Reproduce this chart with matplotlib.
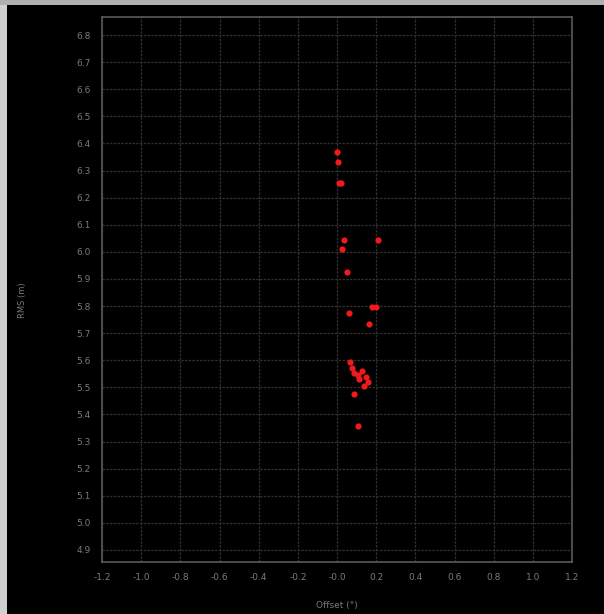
import matplotlib
matplotlib.use("Agg")
import matplotlib.pyplot as plt
from matplotlib.patches import Rectangle

# offset (deg) vs RMS (m)
offset = [0.000, 0.005, 0.010, 0.020, 0.036, 0.026, 0.209, 0.050, 0.061,
          0.180, 0.200, 0.163, 0.066, 0.077, 0.087, 0.107, 0.128, 0.148,
          0.158, 0.138, 0.112, 0.087, 0.107]
rms = [6.369, 6.332, 6.255, 6.255, 6.042, 6.012, 6.045, 5.927, 5.773,
       5.795, 5.795, 5.732, 5.592, 5.570, 5.552, 5.544, 5.559, 5.537,
       5.519, 5.504, 5.530, 5.475, 5.357]

xticks = [-1.2, -1.0, -0.8, -0.6, -0.4, -0.2, 0.0, 0.2, 0.4, 0.6, 0.8, 1.0, 1.2]
xlabels = ['-1.2', '-1.0', '-0.8', '-0.6', '-0.4', '-0.2', '-0.0', '0.2', '0.4',
           '0.6', '0.8', '1.0', '1.2']
yticks = [round(4.9 + 0.1 * i, 1) for i in range(20)]

fig = plt.figure(figsize=(6.04, 6.14), dpi=100, facecolor='black')
ax = fig.add_axes([0.169, 0.085, 0.778, 0.887], facecolor='black')

ax.scatter(offset, rms, s=20, color='#f01a1a', zorder=3, linewidths=0)

ax.set_xlim(-1.2, 1.2)
ax.set_ylim(4.856, 6.866)
ax.set_xticks(xticks)
ax.set_xticklabels(xlabels)
ax.set_yticks(yticks)
ax.set_yticklabels(['%.1f' % v for v in yticks])
ax.tick_params(colors='#7a7a7a', labelsize=6.5, length=0, pad=8)
ax.grid(True, color='#303030', linestyle=(0, (2, 1)), linewidth=0.9)
for s in ax.spines.values():
    s.set_color('#5a5a5a')
    s.set_linewidth(1.2)

ax.set_xlabel('Offset (°)', color='#7a7a7a', fontsize=6.5, labelpad=14)
fig.text(22 / 604, 1 - 300 / 614, 'RMS (m)', color='#7a7a7a', fontsize=6,
         rotation=90, ha='center', va='center')

# light window border at left and top
fig.patches.append(Rectangle((0, 0), 7 / 604, 1, transform=fig.transFigure,
                             facecolor='#d0d0d0', edgecolor='none'))
fig.patches.append(Rectangle((0, 1 - 5 / 614), 1, 5 / 614, transform=fig.transFigure,
                             facecolor='#b0b0b0', edgecolor='none'))

fig.savefig('out.png', dpi=100, facecolor='black')
